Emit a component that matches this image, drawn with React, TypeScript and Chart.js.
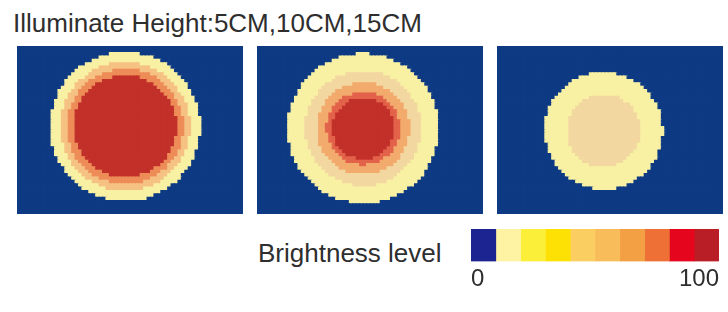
import React, { useEffect, useRef } from 'react';
import { Chart, registerables } from 'chart.js';
Chart.register(...registerables);

const titleText = 'Illuminate Height:5CM,10CM,15CM';
const legendTitle = 'Brightness level';
const heights = ['5CM', '10CM', '15CM'];

// Brightness rings (panel units: 226 wide x 168 tall), outermost first
const ring5Radius = [77.5, 67, 60, 53];
const ring5Level = [1, 3, 5, 9];
const ring10Radius = [78, 60, 48, 38, 32];
const ring10Level = [1, 2, 4, 6, 9];
const ring15Radius = [61, 38];
const ring15Level = [1, 2];
const spotCenterX = [108.5, 106.5, 107];
const spotCenterY = [81, 83, 85.5];

// colour of each brightness level as it appears in the maps
const heatColors = ['#0E3A84', '#F8F1A3', '#F3D7A0', '#F5C284', '#F2AB6C', '#EE8C58', '#E3624A', '#D84A3A', '#CC3A30', '#C2302A'];

// colour bar
const legendColors = ['#1B2490', '#FEF3A2', '#FCEF3A', '#FDE105', '#FBCE62', '#F9BC5A', '#F2A043', '#EE7036', '#E5051C', '#B91D25'];
const legendSegments = [10, 10, 10, 10, 10, 10, 10, 10, 10, 10];
const legendTicks = [0, 100];

const FONT = '"Liberation Sans", Arial, sans-serif';
const PANEL_W = 226;
const PANEL_H = 168;
const COLS = 64;
const ROWS = 48;

const panelRings = [
  { radius: ring5Radius, level: ring5Level },
  { radius: ring10Radius, level: ring10Level },
  { radius: ring15Radius, level: ring15Level },
];

function HeatPanel({ index, left }: { index: number; left: number }) {
  const ref = useRef<HTMLCanvasElement>(null);
  useEffect(() => {
    if (!ref.current) return;
    const rings = panelRings[index];
    const cx = spotCenterX[index];
    const cy = spotCenterY[index];
    const pts: { x: number; y: number }[] = [];
    const cols: string[] = [];
    const cw = PANEL_W / COLS;
    const ch = PANEL_H / ROWS;
    for (let r = 0; r < ROWS; r++) {
      for (let c = 0; c < COLS; c++) {
        const x = (c + 0.5) * cw;
        const y = (r + 0.5) * ch;
        const d = Math.hypot(x - cx, y - cy);
        let lvl = 0;
        for (let k = 0; k < rings.radius.length; k++) {
          if (d <= rings.radius[k]) lvl = rings.level[k];
        }
        pts.push({ x, y });
        cols.push(heatColors[lvl]);
      }
    }
    const radiusFn = (ctx: any) => {
      const a = ctx.chart.chartArea;
      if (!a) return 3.3;
      return Math.max(a.width / COLS, a.height / ROWS) * 0.95;
    };
    const chart = new Chart(ref.current, {
      type: 'scatter',
      data: {
        datasets: [
          {
            label: heights[index],
            data: pts,
            pointStyle: 'rect',
            pointBackgroundColor: cols,
            pointBorderColor: cols,
            pointBorderWidth: 0,
            pointRadius: radiusFn,
            pointHoverRadius: radiusFn,
          } as any,
        ],
      },
      options: {
        animation: false,
        responsive: false,
        events: [],
        layout: { padding: 0 },
        plugins: { legend: { display: false }, tooltip: { enabled: false } },
        scales: {
          x: { type: 'linear', min: 0, max: PANEL_W, display: false },
          y: { type: 'linear', min: 0, max: PANEL_H, reverse: true, display: false },
        },
      },
    });
    return () => chart.destroy();
  }, [index]);
  return (
    <canvas
      ref={ref}
      width={PANEL_W}
      height={PANEL_H}
      style={{ position: 'absolute', left, top: 46, width: PANEL_W, height: PANEL_H, background: heatColors[0] }}
    />
  );
}

function ColorBar() {
  const ref = useRef<HTMLCanvasElement>(null);
  useEffect(() => {
    if (!ref.current) return;
    const chart = new Chart(ref.current, {
      type: 'bar',
      data: {
        labels: [legendTitle],
        datasets: legendColors.map((c, i) => ({
          label: String(i),
          data: [legendSegments[i]],
          backgroundColor: c,
          borderWidth: 0,
          barPercentage: 1,
          categoryPercentage: 1,
        })),
      },
      options: {
        indexAxis: 'y',
        animation: false,
        responsive: false,
        events: [],
        layout: { padding: { left: 5, right: 5, top: 3, bottom: 0 } },
        plugins: { legend: { display: false }, tooltip: { enabled: false } },
        scales: {
          x: {
            stacked: true,
            min: legendTicks[0],
            max: legendTicks[1],
            grid: { display: false, drawTicks: false },
            border: { display: false },
            afterBuildTicks: (axis: any) => {
              axis.ticks = legendTicks.map((v) => ({ value: v }));
            },
            ticks: {
              align: 'inner',
              autoSkip: false,
              maxRotation: 0,
              padding: 3,
              color: '#2e2e2e',
              font: { size: 24, family: FONT },
            },
          } as any,
          y: { stacked: true, display: false },
        },
      },
    });
    return () => chart.destroy();
  }, []);
  return (
    <canvas
      ref={ref}
      width={258}
      height={68}
      style={{ position: 'absolute', left: 466, top: 226, width: 258, height: 68 }}
    />
  );
}

export default function App() {
  return (
    <div
      style={{
        position: 'absolute',
        left: 0,
        top: 0,
        width: 728,
        height: 312,
        background: '#ffffff',
        overflow: 'hidden',
        fontFamily: FONT,
      }}
    >
      <div
        style={{
          position: 'absolute',
          left: 13,
          top: 10,
          fontSize: 26,
          lineHeight: '26px',
          color: '#2e2e2e',
          whiteSpace: 'nowrap',
        }}
      >
        {titleText}
      </div>
      <HeatPanel index={0} left={17} />
      <HeatPanel index={1} left={257} />
      <HeatPanel index={2} left={497} />
      <div
        style={{
          position: 'absolute',
          left: 258,
          top: 240,
          fontSize: 26,
          lineHeight: '26px',
          color: '#2e2e2e',
          whiteSpace: 'nowrap',
        }}
      >
        {legendTitle}
      </div>
      <ColorBar />
    </div>
  );
}
